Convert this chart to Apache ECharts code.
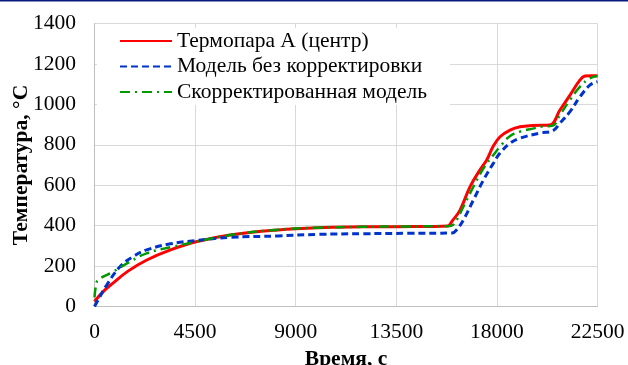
<!DOCTYPE html>
<html>
<head>
<meta charset="utf-8">
<script src="https://cdn.jsdelivr.net/npm/echarts@6/dist/echarts.min.js"></script>
<style>
    html, body { margin: 0; padding: 0; background: #fff; }
    #chart { width: 628px; height: 365px; }
</style>
</head>
<body>
<div id="chart"></div>
<script>
// термопара A
var redTime = [0, 400, 830, 1500, 2340, 3400, 4540, 6060, 8200, 10000, 12000, 13500, 15000, 15800, 15980, 16350, 16800, 17245, 17545, 17830, 18140, 18590, 19040, 19600, 20370, 20820, 21270, 21720, 21940, 22200, 22500];
var redTemp = [25, 75, 116, 175, 230, 280, 320, 354, 379, 390, 394, 395, 396, 398, 420, 477, 593, 676, 725, 791, 840, 873, 889, 895, 898, 972, 1046, 1121, 1140, 1142, 1142];
// модель без корректировки
var blueTime = [0, 100, 545, 1140, 1700, 2330, 3400, 4525, 6060, 8200, 10000, 12000, 14000, 16000, 16200, 16500, 16950, 17400, 17840, 18140, 18590, 19040, 19930, 20510, 20820, 21270, 21720, 22170, 22500];
var blueTemp = [0, 20, 106, 197, 245, 280, 310, 326, 342, 349, 357, 360, 362, 364, 380, 428, 527, 626, 708, 759, 808, 833, 858, 870, 907, 964, 1038, 1096, 1112];
// скорректированная модель
var greenTime = [0, 60, 160, 830, 1590, 2330, 3510, 4540, 6060, 8200, 10000, 12000, 14000, 15900, 16100, 16500, 16950, 17400, 17840, 18140, 18590, 19040, 19600, 20000, 20500, 20820, 21270, 21720, 22170, 22500];
var greenTemp = [45, 100, 131, 172, 222, 263, 296, 320, 354, 380, 390, 394, 396, 398, 410, 494, 593, 684, 749, 791, 844, 865, 880, 890, 895, 947, 1022, 1088, 1129, 1140];
var xTicks = [0, 4500, 9000, 13500, 18000, 22500];
var yTicks = [0, 200, 400, 600, 800, 1000, 1200, 1400];

function pairs(t, v) {
    return t.map(function (x, i) { return [x, v[i]]; });
}

var font = 'Liberation Serif';
var fs = 21.5;
var chart = echarts.init(document.getElementById('chart'));
chart.setOption({
    animation: false,
    textStyle: { fontFamily: font },
    graphic: [{
        type: 'rect',
        shape: { x: 0, y: 0, width: 628, height: 1.5 },
        style: { fill: '#0a1a7a' }
    }],
    grid: { left: 94.5, right: 30.5, top: 23.5, bottom: 58.5, outerBoundsMode: 'none', containLabel: false },
    legend: {
        orient: 'vertical',
        left: 97,
        top: 28,
        padding: [2, 23, 2, 22],
        backgroundColor: '#fff',
        itemWidth: 52,
        itemHeight: 14,
        itemGap: 3.5,
        itemStyle: { opacity: 0 },
        textStyle: { fontFamily: font, fontSize: fs, color: '#000', lineHeight: 22 },
        data: ['Термопара А (центр)', 'Модель без корректировки', 'Скорректированная модель']
    },
    xAxis: {
        type: 'value',
        min: xTicks[0],
        max: xTicks[xTicks.length - 1],
        interval: 4500,
        name: 'Время, с',
        nameLocation: 'middle',
        nameGap: 42,
        nameMoveOverlap: false,
        nameTextStyle: { fontFamily: font, fontSize: fs, fontWeight: 'bold', color: '#000' },
        axisLine: { lineStyle: { color: '#bfbfbf' } },
        axisTick: { show: false },
        axisLabel: { margin: 15, fontFamily: font, fontSize: fs, color: '#000', formatter: function (v) { return String(v); } },
        splitLine: { lineStyle: { color: '#d9d9d9' } }
    },
    yAxis: {
        type: 'value',
        min: yTicks[0],
        max: yTicks[yTicks.length - 1],
        interval: 200,
        name: 'Температура, °C',
        nameLocation: 'middle',
        nameGap: 62,
        nameMoveOverlap: false,
        nameTextStyle: { fontFamily: font, fontSize: fs, fontWeight: 'bold', color: '#000' },
        axisLine: { show: true, lineStyle: { color: '#bfbfbf' } },
        axisTick: { show: false },
        axisLabel: { margin: 18.5, fontFamily: font, fontSize: fs, color: '#000', formatter: function (v) { return String(v); } },
        splitLine: { lineStyle: { color: '#d9d9d9' } }
    },
    series: [
        {
            name: 'Термопара А (центр)',
            type: 'line',
            data: pairs(redTime, redTemp),
            smooth: 0.4,
            symbol: 'none',
            z: 3,
            lineStyle: { color: '#ff0000', width: 3 },
            itemStyle: { color: '#ff0000' }
        },
        {
            name: 'Модель без корректировки',
            type: 'line',
            data: pairs(blueTime, blueTemp),
            smooth: 0.4,
            symbol: 'none',
            z: 4,
            lineStyle: { color: '#0033cc', width: 3, type: [7, 4] },
            itemStyle: { color: '#0033cc' }
        },
        {
            name: 'Скорректированная модель',
            type: 'line',
            data: pairs(greenTime, greenTemp),
            smooth: 0.4,
            symbol: 'none',
            z: 5,
            lineStyle: { color: '#009900', width: 2.5, type: [10, 5, 2, 5] },
            itemStyle: { color: '#009900' }
        }
    ]
});
</script>
</body>
</html>
